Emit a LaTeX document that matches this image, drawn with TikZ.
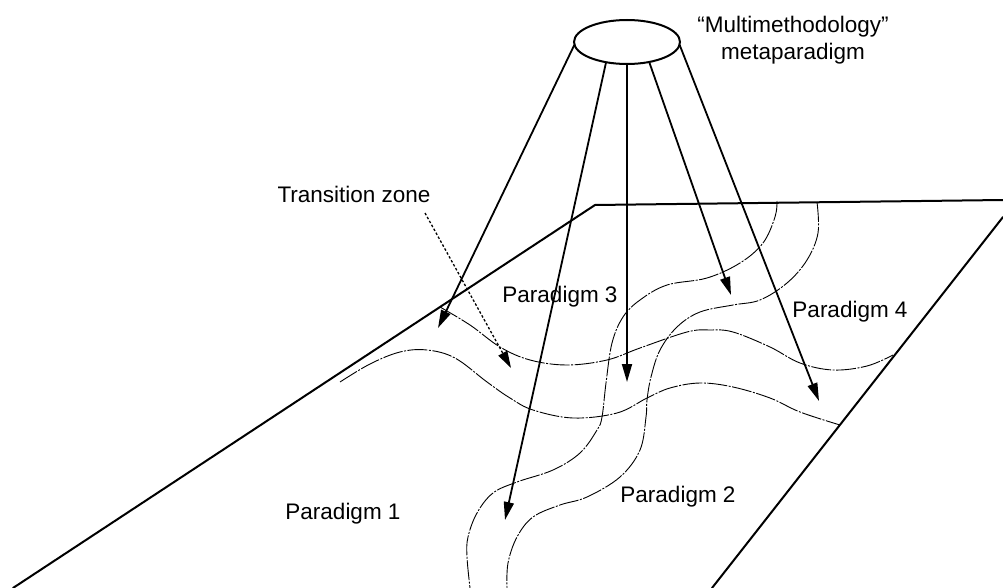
\documentclass[tikz,border=0pt]{standalone}
\usepackage{fontspec}
\setmainfont{Liberation Sans}
\usetikzlibrary{arrows.meta,shapes.geometric}
\begin{document}
\begin{tikzpicture}[x=1pt,y=-1pt,
  edge/.style={line width=2pt, line cap=round, line join=round},
  arr/.style={line width=1.8pt, -{Triangle[length=18pt,width=10pt]}},
  tzarrow/.style={line width=1.3pt, dash pattern=on 2.5pt off 2pt, -{Triangle[length=17pt,width=10pt]}},
  zone/.style={line width=0.9pt, dash pattern=on 20pt off 1.5pt on 2pt off 1.5pt},
  lbl/.style={font=\fontsize{22.5}{27}\selectfont, inner sep=0pt, anchor=base},
  topnode/.style={ellipse, draw, line width=2pt, minimum width=106pt, minimum height=44pt, inner sep=0pt, outer sep=0pt}]
\useasboundingbox (0,0) rectangle (1003,588);

% plane outline
\draw[edge] (13,588) -- (595,205) -- (1003,200);
\draw[edge] (1003,217) -- (712,588);

% zone boundaries
\draw[zone] plot[smooth,tension=0.6] coordinates {(440,307) (470,325) (500,347) (530,360) (567,365) (607,360) (640,348) (687,332) (710,330) (733,332) (770,347) (800,363) (833,370) (867,366) (893,355)};
\draw[zone] plot[smooth,tension=0.6] coordinates {(340,382) (370,364) (400,352) (427,350) (455,358) (487,382) (510,398) (533,410) (573,418) (617,413) (647,398) (670,388) (700,383) (733,387) (770,398) (800,412) (840,425)};
\draw[zone] plot[smooth,tension=0.6] coordinates {(777,201) (775,217) (763,243) (740,263) (707,278) (667,285) (640,300) (623,317) (612,343) (606,383) (602,417) (597,430) (580,453) (553,470) (517,482) (493,493) (477,513) (468,537) (467,557) (470,588)};
\draw[zone] plot[smooth,tension=0.6] coordinates {(817,202) (818,233) (807,260) (787,283) (760,300) (733,305) (700,312) (677,327) (660,350) (651,377) (647,400) (646,417) (640,450) (620,477) (587,497) (560,505) (533,517) (517,537) (508,563) (507,588)};

% metaparadigm
\node[topnode] (E) at (627,42) {};
\node[lbl] (M1) at (793,33) {“Multimethodology”};
\node[lbl] (M2) at (793,60) {metaparadigm};

% labels
\node[lbl] (TZ) at (354,203) {Transition zone};
\node[lbl] (P1) at (343,519) {Paradigm 1};
\node[lbl] (P2) at (678,502) {Paradigm 2};
\node[lbl] (P3) at (560,302) {Paradigm 3};
\node[lbl] (P4) at (850,317) {Paradigm 4};

% arrow ends
\coordinate (t1) at (438,328);
\coordinate (t2) at (505,520);
\coordinate (t3) at (627,382);
\coordinate (t4) at (731,295);
\coordinate (t5) at (819,401);
\coordinate (tzs) at (425,213);
\coordinate (tze) at (511,368);

\draw[arr] (E.183) -- (t1);
\draw[arr] (E.224) -- (t2);
\draw[arr] (E.270) -- (t3);
\draw[arr] (E.318) -- (t4);
\draw[arr] (E.357) -- (t5);
\draw[tzarrow] (tzs) -- (tze);
\end{tikzpicture}
\end{document}
